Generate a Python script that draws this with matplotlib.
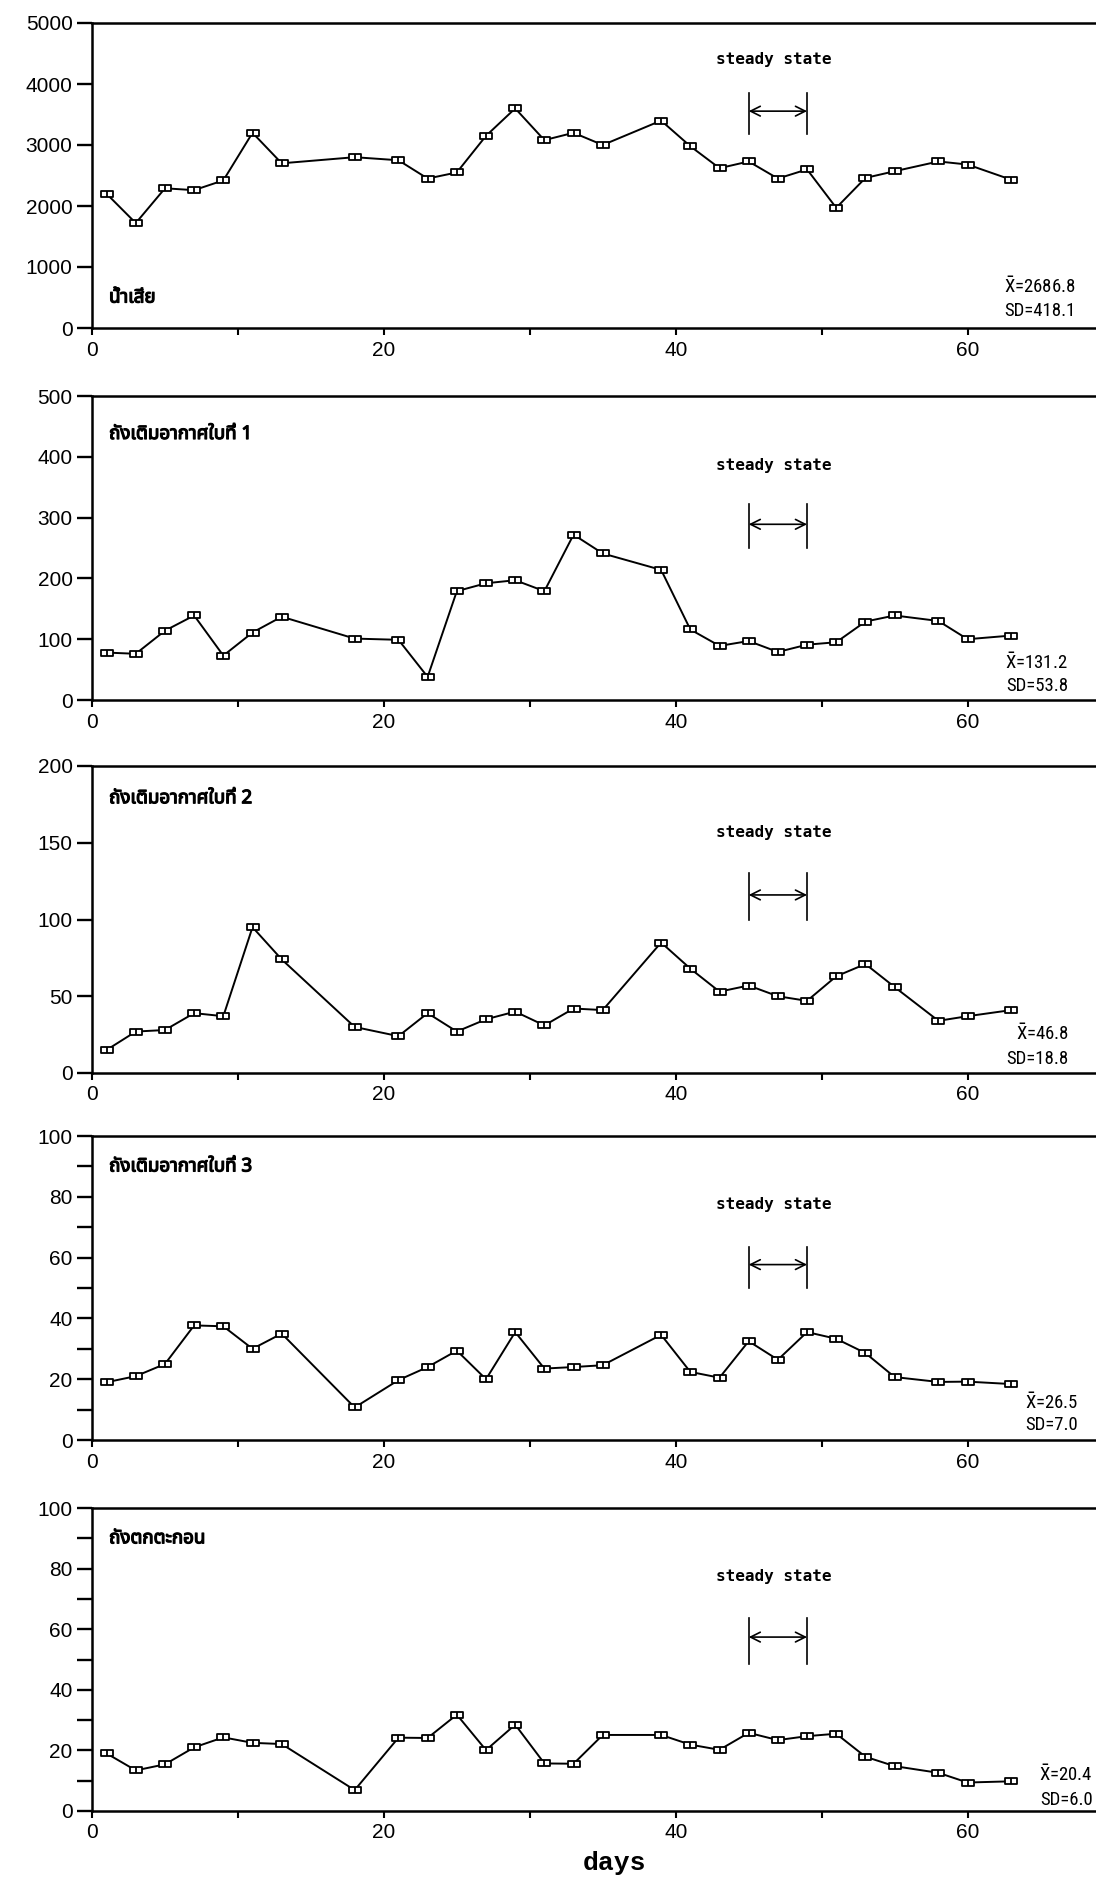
import matplotlib
matplotlib.use("Agg")
import matplotlib.pyplot as plt
import matplotlib.patheffects as pe
from matplotlib import font_manager
from matplotlib.ft2font import FT2Font
from matplotlib.path import Path

# ---------------- data ----------------
days = [1, 3, 5, 7, 9, 11, 13, 18, 21, 23, 25, 27, 29, 31, 33, 35, 39, 41,
        43, 45, 47, 49, 51, 53, 55, 58, 60, 63]
wastewater = [2200, 1720, 2290, 2260, 2420, 3200, 2700, 2800, 2750, 2450, 2550,
              3150, 3600, 3080, 3200, 3000, 3400, 2980, 2620, 2730, 2450, 2600,
              1970, 2460, 2570, 2730, 2680, 2430]
tank1 = [78, 76, 114, 139, 73, 111, 137, 101, 99, 38, 179, 192, 197, 179, 272,
         241, 214, 116, 89, 97, 79, 91, 95, 129, 139, 130, 100, 106]
tank2 = [15, 27, 28, 39, 37, 95, 74, 30, 24, 39, 27, 35, 40, 31, 42, 41, 85, 68,
         53, 57, 50, 47, 63, 71, 56, 34, 37, 41]
tank3 = [19, 21, 25, 37.7, 37.4, 30, 35, 10.7, 19.7, 24, 29.4, 20, 35.5, 23.5,
         24, 24.6, 34.6, 22.4, 20.5, 32.5, 26.4, 35.5, 33.3, 28.6, 20.7, 19.1,
         19.2, 18.4]
settling = [19, 13.4, 15.4, 21, 24.3, 22.5, 22.1, 6.9, 24.2, 24.1, 31.8, 20.1,
            28.5, 15.7, 15.6, 25.1, 25.1, 21.9, 20.2, 25.8, 23.4, 24.7, 25.5,
            17.9, 14.8, 12.6, 9.4, 9.8]

series = [wastewater, tank1, tank2, tank3, settling]
labels = ["น้ำเสีย", "ถังเติมอากาศใบที่ 1", "ถังเติมอากาศใบที่ 2",
          "ถังเติมอากาศใบที่ 3", "ถังตกตะกอน"]
means = ["2686.8", "131.2", "46.8", "26.5", "20.4"]
sds = ["418.1", "53.8", "18.8", "7.0", "6.0"]
ymax = [5000, 500, 200, 100, 100]
ymajor = [1000, 100, 50, 20, 20]
yminor = [None, None, None, 10, 10]
xmajor = [0, 20, 40, 60]
xminor = [10, 30, 50]
steady = (45, 49)
# annotation heights (fraction of y range)
steady_text_y = [0.88, 0.77, 0.785, 0.776, 0.773]
steady_arrow_y = [0.711, 0.578, 0.58, 0.577, 0.574]
steady_lo = [0.636, 0.50, 0.50, 0.50, 0.484]
steady_hi = [0.77, 0.644, 0.65, 0.634, 0.636]
label_y = [0.10, 0.875, 0.895, 0.90, 0.90]
stat_x = [0.98, 0.972, 0.973, 0.982, 0.997]
stat_y1 = [0.137, 0.124, 0.128, 0.122, 0.12]
stat_y2 = [0.055, 0.046, 0.045, 0.05, 0.036]

# ---------------- fonts ----------------
ttf = font_manager.fontManager.ttflist
avail = {}
for f in ttf:
    avail.setdefault(f.name, f.fname)


def pick_font(prefs, test_chars=None):
    for p in prefs:
        if p in avail:
            return p
    if test_chars:
        for name, path in sorted(avail.items()):
            try:
                cmap = FT2Font(path).get_charmap()
            except Exception:
                continue
            if all(ord(c) in cmap for c in test_chars):
                return name
    return None


def pick_condensed():
    for name in ("Liberation Sans Narrow", "Roboto Condensed",
                 "Open Sans Condensed", "Noto Sans Condensed"):
        if name in avail:
            return name, "normal"
    for fam in ("Liberation Sans", "DejaVu Sans", "Noto Sans", "Roboto",
                "Open Sans"):
        for f in ttf:
            if (f.name == fam and f.style == "normal"
                    and str(f.stretch) in ("condensed", "extra-condensed",
                                           "semi-condensed")):
                return fam, f.stretch
    return None, None


thai = pick_font(["Noto Sans Thai", "Noto Sans Thai UI", "Loma", "Garuda",
                  "Tlwg Typo", "Waree", "Norasi", "Kinnari"], "กงเิ่้ำ")
thai_family = [thai, "DejaVu Sans"] if thai else ["DejaVu Sans"]
thai_has_bold = any(f.name == thai and isinstance(f.weight, int) and f.weight >= 600
                    for f in ttf) if thai else False
thai_effects = [] if thai_has_bold else [pe.withStroke(linewidth=0.9,
                                                       foreground="black")]
tick_font = pick_font(["Liberation Sans", "Arial"]) or "DejaVu Sans"
mono = "DejaVu Sans Mono"
cond_name, cond_stretch = pick_condensed()
if cond_name:
    stat_kw = dict(family=cond_name, fontstretch=cond_stretch,
                   fontsize=15 if "Narrow" in cond_name else 13.5)
else:
    stat_kw = dict(family=mono, fontsize=12.5)
days_font = pick_font(["Liberation Mono", "DejaVu Sans Mono"])

plt.rcParams["font.family"] = [tick_font, "DejaVu Sans"]

# marker: small open rectangle with centre divider
box = Path([(-1, -0.55), (1, -0.55), (1, 0.55), (-1, 0.55), (-1, -0.55),
            (0, -0.55), (0, 0.55)],
           [Path.MOVETO, Path.LINETO, Path.LINETO, Path.LINETO, Path.CLOSEPOLY,
            Path.MOVETO, Path.LINETO])

fig = plt.figure(figsize=(10.96, 18.78), dpi=100)
W, H = 1096.0, 1878.0
left_px, right_px = 92.0, 1096.0
panels_px = [(23, 328), (396, 700), (766, 1073), (1136, 1440), (1508, 1811)]

for i, (top, bot) in enumerate(panels_px):
    ax = fig.add_axes([left_px / W, 1 - bot / H, (right_px - left_px) / W,
                       (bot - top) / H])
    ax.plot(days, series[i], color="black", lw=1.4, marker=box, ms=8.5,
            mfc="white", mec="black", mew=1.3, clip_on=False, zorder=3)
    ax.set_xlim(0, 68.8)
    ax.set_ylim(0, ymax[i])
    ax.spines["right"].set_visible(False)
    for s in ("left", "top", "bottom"):
        ax.spines[s].set_linewidth(1.8)
    ax.set_xticks(xmajor)
    ax.set_xticks(xminor, minor=True)
    ax.set_yticks(list(range(0, ymax[i] + 1, ymajor[i])))
    if yminor[i]:
        ax.set_yticks(list(range(0, ymax[i] + 1, yminor[i])), minor=True)
    ax.tick_params(axis="y", which="both", direction="out", length=11,
                   width=1.7, pad=3, labelsize=15)
    ax.tick_params(axis="x", which="both", direction="out", length=5,
                   width=1.5, pad=4, labelsize=15)
    ax.set_facecolor("white")

    # series label
    ax.text(0.017, label_y[i], labels[i], transform=ax.transAxes,
            family=thai_family, fontsize=13.5, fontweight="bold",
            va="center", ha="left", path_effects=thai_effects)

    # steady state annotation
    ym = ymax[i]
    ax.text((steady[0] + steady[1]) / 2 - 0.3, steady_text_y[i] * ym,
            "steady state", family=mono, fontsize=11.5, fontweight="bold",
            ha="center", va="center")
    for xv in steady:
        ax.plot([xv, xv], [steady_lo[i] * ym, steady_hi[i] * ym],
                color="black", lw=1.2)
    ax.annotate("", xy=(steady[1], steady_arrow_y[i] * ym),
                xytext=(steady[0], steady_arrow_y[i] * ym),
                arrowprops=dict(arrowstyle="<->,head_length=0.7,head_width=0.35",
                                color="black", lw=1.2, shrinkA=0, shrinkB=0))

    # statistics
    ax.text(stat_x[i], stat_y1[i], r"$\bar{\mathdefault{X}}$=" + means[i],
            transform=ax.transAxes, ha="right", va="center", **stat_kw)
    ax.text(stat_x[i], stat_y2[i], "SD=" + sds[i], transform=ax.transAxes,
            ha="right", va="center", **stat_kw)

fig.text(615 / W, 1 - 1863 / H, "days", family=days_font, fontweight="bold",
         fontsize=19, ha="center", va="center")

fig.savefig("out.png", dpi=100, facecolor="white")
